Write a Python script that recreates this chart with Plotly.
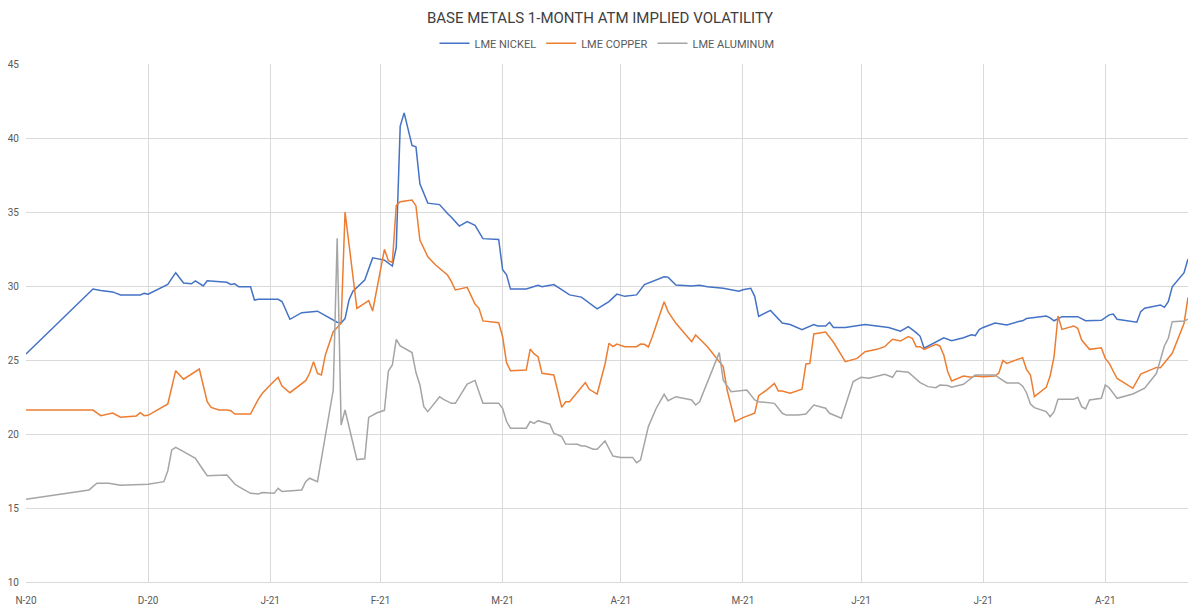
import plotly.graph_objects as go

nickel_dates = ["2020-11-30","2020-12-17","2020-12-19","2020-12-22","2020-12-24","2020-12-29","2020-12-30","2020-12-31",
    "2021-01-05","2021-01-07","2021-01-09","2021-01-11","2021-01-12","2021-01-14","2021-01-15","2021-01-18","2021-01-20",
    "2021-01-21","2021-01-22","2021-01-23","2021-01-26","2021-01-27","2021-01-28","2021-02-02","2021-02-03","2021-02-05",
    "2021-02-08","2021-02-12","2021-02-17","2021-02-18","2021-02-19","2021-02-20","2021-02-21","2021-02-24","2021-02-26",
    "2021-03-01","2021-03-03","2021-03-04","2021-03-05","2021-03-06","2021-03-08","2021-03-09","2021-03-10","2021-03-12",
    "2021-03-15","2021-03-17","2021-03-18","2021-03-20","2021-03-22","2021-03-24","2021-03-26","2021-03-30","2021-03-31",
    "2021-04-01","2021-04-02","2021-04-06","2021-04-07","2021-04-09","2021-04-10","2021-04-13","2021-04-15","2021-04-17",
    "2021-04-20","2021-04-22","2021-04-24","2021-04-27","2021-04-29","2021-05-01","2021-05-04","2021-05-06","2021-05-11",
    "2021-05-12","2021-05-14","2021-05-18","2021-05-20","2021-05-22","2021-05-26","2021-05-30","2021-05-31","2021-06-02",
    "2021-06-03","2021-06-04","2021-06-07","2021-06-10","2021-06-12","2021-06-15","2021-06-16","2021-06-18","2021-06-19",
    "2021-06-21","2021-06-22","2021-06-23","2021-06-26","2021-06-29","2021-07-01","2021-07-04","2021-07-07","2021-07-10",
    "2021-07-12","2021-07-14","2021-07-15","2021-07-16","2021-07-19","2021-07-21","2021-07-23","2021-07-26","2021-07-28",
    "2021-07-29","2021-07-30","2021-07-31","2021-08-03","2021-08-06","2021-08-09","2021-08-10","2021-08-11","2021-08-16",
    "2021-08-17","2021-08-18","2021-08-20","2021-08-24","2021-08-26","2021-08-30","2021-09-01","2021-09-02","2021-09-03",
    "2021-09-08","2021-09-09","2021-09-10","2021-09-14","2021-09-15","2021-09-16","2021-09-17","2021-09-20","2021-09-21"]
nickel_vals = [25.4,29.8,29.7,29.6,29.4,29.4,29.5,29.45,
    30.1,30.9,30.2,30.15,30.35,30.0,30.35,30.3,30.25,
    30.1,30.15,29.95,29.95,29.05,29.1,29.1,28.95,27.75,
    28.2,28.3,27.55,27.5,27.8,29.05,29.65,30.4,31.9,
    31.75,31.35,32.6,40.8,41.7,39.5,39.4,36.9,35.6,
    35.5,34.9,34.65,34.05,34.35,34.1,33.2,33.15,31.1,
    30.75,29.8,29.8,29.9,30.05,29.95,30.1,29.75,29.4,
    29.25,28.85,28.45,28.95,29.45,29.3,29.4,30.1,30.63,
    30.6,30.07,30.0,30.05,29.95,29.85,29.65,29.75,29.85,
    29.3,27.95,28.35,27.5,27.4,27.05,27.15,27.4,27.3,
    27.3,27.55,27.2,27.2,27.35,27.4,27.3,27.2,26.95,
    27.25,26.85,26.6,25.8,26.25,26.5,26.3,26.5,26.7,
    26.65,27.05,27.2,27.5,27.36,27.6,27.65,27.8,27.97,
    27.85,27.65,27.93,27.93,27.66,27.68,28.05,28.1,27.75,
    27.55,28.27,28.5,28.72,28.56,28.94,29.95,30.9,31.82]

copper_dates = ["2020-11-30","2020-12-17","2020-12-19","2020-12-22","2020-12-24","2020-12-28","2020-12-29","2020-12-30",
    "2020-12-31","2021-01-05","2021-01-07","2021-01-09","2021-01-13","2021-01-14","2021-01-15","2021-01-16","2021-01-18",
    "2021-01-20","2021-01-21","2021-01-22","2021-01-26","2021-01-28","2021-01-29","2021-01-31","2021-02-02","2021-02-03",
    "2021-02-05","2021-02-09","2021-02-10","2021-02-11","2021-02-12","2021-02-13","2021-02-14","2021-02-16","2021-02-18",
    "2021-02-19","2021-02-22","2021-02-25","2021-02-26","2021-03-01","2021-03-02","2021-03-03","2021-03-04","2021-03-05",
    "2021-03-08","2021-03-09","2021-03-10","2021-03-12","2021-03-14","2021-03-17","2021-03-18","2021-03-19","2021-03-22",
    "2021-03-24","2021-03-25","2021-03-26","2021-03-30","2021-03-31","2021-04-01","2021-04-02","2021-04-06","2021-04-07",
    "2021-04-08","2021-04-09","2021-04-10","2021-04-13","2021-04-15","2021-04-16","2021-04-17","2021-04-21","2021-04-22",
    "2021-04-24","2021-04-26","2021-04-27","2021-04-28","2021-04-29","2021-05-01","2021-05-04","2021-05-05","2021-05-06",
    "2021-05-07","2021-05-08","2021-05-11","2021-05-12","2021-05-14","2021-05-18","2021-05-19","2021-05-21","2021-05-22",
    "2021-05-26","2021-05-27","2021-05-29","2021-05-31","2021-06-03","2021-06-04","2021-06-06","2021-06-08","2021-06-09",
    "2021-06-10","2021-06-12","2021-06-15","2021-06-16","2021-06-17","2021-06-18","2021-06-21","2021-06-23","2021-06-26",
    "2021-06-29","2021-07-01","2021-07-04","2021-07-06","2021-07-07","2021-07-08","2021-07-10","2021-07-12","2021-07-13",
    "2021-07-14","2021-07-15","2021-07-16","2021-07-19","2021-07-20","2021-07-21","2021-07-22","2021-07-23","2021-07-26",
    "2021-07-28","2021-07-29","2021-07-31","2021-08-03","2021-08-04","2021-08-05","2021-08-06","2021-08-10","2021-08-11",
    "2021-08-12","2021-08-13","2021-08-16","2021-08-17","2021-08-18","2021-08-19","2021-08-20","2021-08-23","2021-08-24",
    "2021-08-25","2021-08-27","2021-08-30","2021-08-31","2021-09-01","2021-09-03","2021-09-07","2021-09-09","2021-09-13",
    "2021-09-14","2021-09-17","2021-09-20","2021-09-21"]
copper_vals = [21.62,21.62,21.24,21.42,21.13,21.22,21.44,21.24,
    21.26,22.03,24.28,23.70,24.39,23.31,22.18,21.80,21.62,
    21.62,21.57,21.35,21.35,22.36,22.75,23.31,23.83,23.24,
    22.79,23.60,24.10,24.89,24.10,23.99,25.34,26.91,27.48,
    35.0,28.49,29.01,28.31,32.48,31.71,31.60,35.44,35.70,
    35.81,35.41,33.11,31.98,31.42,30.74,30.29,29.73,29.91,
    28.78,28.49,27.64,27.52,26.57,24.82,24.28,24.32,25.74,
    25.41,25.22,24.10,23.99,21.80,22.18,22.18,23.47,23.02,
    22.70,24.73,26.13,25.90,26.08,25.90,25.90,26.08,26.06,
    25.88,26.57,28.94,28.27,27.48,26.24,26.69,26.17,25.90,
    24.55,22.97,20.84,21.11,21.40,22.59,22.97,23.42,22.91,
    22.91,22.75,23.02,24.73,24.77,26.76,26.89,26.20,24.89,
    25.11,25.56,25.72,25.90,26.17,26.40,26.28,26.58,26.47,
    25.90,25.90,25.72,26.06,25.95,25.34,24.21,23.58,23.92,
    23.83,23.92,23.87,23.92,24.14,24.97,24.77,25.16,24.37,
    23.99,22.52,23.15,23.92,25.22,27.97,27.07,27.30,27.14,
    26.35,25.72,25.83,25.11,24.77,23.75,23.09,24.05,24.50,
    24.48,25.45,27.48,29.23]

aluminum_dates = ["2020-11-30","2020-12-16","2020-12-18","2020-12-21","2020-12-24","2020-12-31","2021-01-04","2021-01-05",
    "2021-01-06","2021-01-07","2021-01-09","2021-01-12","2021-01-14","2021-01-15","2021-01-20","2021-01-21","2021-01-22",
    "2021-01-23","2021-01-26","2021-01-28","2021-01-29","2021-02-01","2021-02-02","2021-02-03","2021-02-08","2021-02-09",
    "2021-02-10","2021-02-12","2021-02-16","2021-02-17","2021-02-18","2021-02-19","2021-02-22","2021-02-24","2021-02-25",
    "2021-02-27","2021-03-01","2021-03-02","2021-03-03","2021-03-04","2021-03-05","2021-03-08","2021-03-09","2021-03-10",
    "2021-03-11","2021-03-12","2021-03-15","2021-03-16","2021-03-18","2021-03-19","2021-03-22","2021-03-24","2021-03-26",
    "2021-03-30","2021-03-31","2021-04-01","2021-04-02","2021-04-06","2021-04-07","2021-04-08","2021-04-09","2021-04-12",
    "2021-04-13","2021-04-15","2021-04-16","2021-04-19","2021-04-20","2021-04-21","2021-04-23","2021-04-24","2021-04-26",
    "2021-04-28","2021-04-30","2021-05-03","2021-05-04","2021-05-05","2021-05-07","2021-05-09","2021-05-11","2021-05-12",
    "2021-05-14","2021-05-18","2021-05-19","2021-05-20","2021-05-25","2021-05-26","2021-05-28","2021-06-01","2021-06-03",
    "2021-06-04","2021-06-08","2021-06-10","2021-06-11","2021-06-14","2021-06-16","2021-06-18","2021-06-21","2021-06-22",
    "2021-06-25","2021-06-28","2021-06-30","2021-07-02","2021-07-06","2021-07-08","2021-07-09","2021-07-12","2021-07-15",
    "2021-07-17","2021-07-19","2021-07-20","2021-07-22","2021-07-23","2021-07-26","2021-07-29","2021-07-31","2021-08-03",
    "2021-08-04","2021-08-06","2021-08-09","2021-08-10","2021-08-11","2021-08-12","2021-08-13","2021-08-16","2021-08-17",
    "2021-08-18","2021-08-19","2021-08-23","2021-08-24","2021-08-25","2021-08-26","2021-08-27","2021-08-30","2021-08-31",
    "2021-09-01","2021-09-03","2021-09-07","2021-09-10","2021-09-13","2021-09-15","2021-09-16","2021-09-17","2021-09-20",
    "2021-09-21"]
aluminum_vals = [15.59,16.22,16.67,16.67,16.53,16.60,16.78,17.52,
    18.92,19.10,18.81,18.36,17.57,17.18,17.23,16.94,16.62,
    16.44,15.99,15.95,16.04,15.99,16.33,16.11,16.22,16.78,
    17.01,16.78,22.97,33.22,20.61,21.62,18.27,18.33,21.12,
    21.42,21.60,24.25,24.66,26.40,25.95,25.50,24.15,23.31,
    21.85,21.51,22.52,22.34,22.07,22.07,23.37,23.62,22.07,
    22.07,21.74,20.84,20.39,20.39,20.84,20.72,20.90,20.66,
    20.05,19.82,19.32,19.30,19.19,19.19,18.97,18.97,19.53,
    18.51,18.42,18.42,18.06,18.24,20.50,21.74,22.68,22.25,
    22.52,22.30,21.96,22.18,25.50,23.65,22.86,22.97,22.30,
    22.18,22.07,21.40,21.28,21.28,21.35,21.96,21.74,21.40,
    21.06,23.54,23.83,23.76,24.03,23.83,24.26,24.17,23.47,
    23.20,23.13,23.31,23.27,23.16,23.36,23.99,24.01,23.99,
    23.79,23.45,23.45,23.25,22.79,22.03,21.78,21.51,21.17,
    21.51,22.34,22.34,22.48,21.85,21.69,22.30,22.41,23.31,
    23.13,22.41,22.70,23.09,24.10,25.95,26.47,27.59,27.64,
    27.75]

tick_dates = ["2020-11-30","2020-12-31","2021-01-31","2021-02-28","2021-03-31",
              "2021-04-30","2021-05-31","2021-06-30","2021-07-31","2021-08-31"]
tick_labels = ["N-20","D-20","J-21","F-21","M-21","A-21","M-21","J-21","J-21","A-21"]

series = [
    ("LME NICKEL", nickel_dates, nickel_vals, "#4472C4"),
    ("LME COPPER", copper_dates, copper_vals, "#ED7D31"),
    ("LME ALUMINUM", aluminum_dates, aluminum_vals, "#A5A5A5"),
]

fig = go.Figure()
for name, d, v, c in series:
    fig.add_trace(go.Scatter(x=d, y=v, mode="lines", name=name,
                             line=dict(color=c, width=1.5)))

fig.update_layout(
    width=1200, height=607,
    margin=dict(l=26, r=12, t=64, b=25),
    paper_bgcolor="white", plot_bgcolor="white",
    font=dict(family="Roboto, sans-serif", color="#595959"),
    title=dict(text="BASE METALS 1-MONTH ATM IMPLIED VOLATILITY",
               x=0.5, xanchor="center", y=1 - 17.5 / 607, yanchor="middle",
               font=dict(size=15, color="#404040", family="Roboto, sans-serif")),
    legend=dict(orientation="h", x=0.5, xanchor="center", y=1.04, yanchor="middle",
                font=dict(size=11, color="#595959"), itemwidth=30,
                bgcolor="rgba(0,0,0,0)"),
    showlegend=True,
)
fig.update_xaxes(type="date", range=["2020-11-30", "2021-09-21"],
                 tickmode="array", tickvals=tick_dates, ticktext=tick_labels,
                 showgrid=True, gridcolor="#D9D9D9", gridwidth=1,
                 showline=True, linecolor="#D9D9D9", linewidth=1,
                 ticks="", tickfont=dict(size=10, color="#595959"), zeroline=False,
                 ticklabelstandoff=9, automargin=False)
fig.update_yaxes(range=[10, 45], dtick=5, tick0=10,
                 showgrid=True, gridcolor="#D9D9D9", gridwidth=1,
                 showline=False, ticks="", zeroline=False,
                 tickfont=dict(size=10, color="#595959"), ticklabelstandoff=6,
                 automargin=False)

fig.write_html("out.html")
